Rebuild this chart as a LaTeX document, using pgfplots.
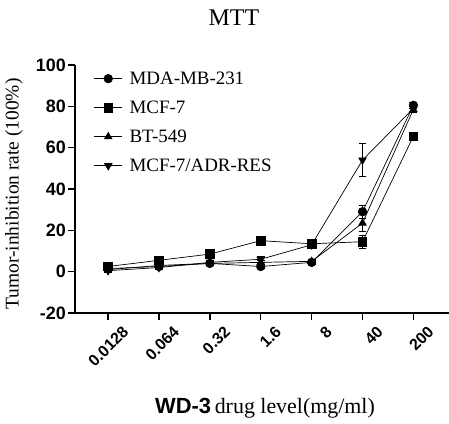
\documentclass[border=0pt]{standalone}
\usepackage{pgfplots}
\pgfplotsset{compat=1.18}
\usepackage{fontspec}
\setmainfont{Liberation Serif}
\newfontfamily\arial{Liberation Sans}
\pgfplotsset{ser/.style={black, line width=0.7pt, mark size=4.3pt,
    error bars/y dir=both, error bars/y explicit,
    error bars/error bar style={line width=0.7pt},
    error bars/error mark options={rotate=90, mark size=4pt, line width=0.7pt}}}
\begin{document}
\begin{tikzpicture}[x=1bp,y=1bp]
\useasboundingbox (0,0) rectangle (449,423);
\begin{axis}[
  at={(75bp,110bp)}, anchor=south west,
  scale only axis, width=374bp, height=248bp,
  axis lines=left, axis line style={line width=1.7pt, -},
  xmin=-0.65, xmax=6.7, ymin=-20, ymax=100,
  xtick={0,...,6},
  xticklabels={0.0128,0.064,0.32,1.6,8,40,200},
  ytick={-20,0,20,40,60,80,100},
  tick align=outside, major tick length=7bp,
  tick style={line width=1.5pt, black},
  /pgf/number format/assume math mode=true,
  xticklabel style={font=\arial\bfseries\fontsize{16}{16}\selectfont, rotate=45, anchor=north east, inner sep=1pt, xshift=7bp, yshift=-12bp},
  yticklabel style={font=\arial\bfseries\fontsize{18}{18}\selectfont, inner sep=2pt},
  title={MTT}, title style={font=\fontsize{24}{24}\selectfont, at={(axis description cs:0.425,1.168)}, anchor=center},
  ylabel={Tumor-inhibition rate (100\%)},
  ylabel style={font=\fontsize{19.5}{19.5}\selectfont, at={(axis description cs:-0.163,0.48)}, anchor=center},
  xlabel={{\arial\bfseries WD-3}\,drug level(mg/ml)},
  xlabel style={font=\fontsize{22}{22}\selectfont, at={(axis description cs:0.508,-0.385)}, anchor=center},
  legend style={draw=none, fill=none, at={(axis description cs:0.05,0.982)}, anchor=north west,
    font=\fontsize{19}{19}\selectfont, row sep=11bp, column sep=5bp, inner sep=0pt},
  legend image code/.code={\draw[mark repeat=2,mark phase=2,#1] plot coordinates {(0bp,0bp) (14bp,0bp) (28bp,0bp)};},
  legend cell align=left,
  clip=false,
]
\addplot[ser, mark=*, mark options={fill=black, solid}] coordinates {
 (0,1.5) +- (0,0.8) (1,2.5) +- (0,0.8) (2,4) +- (0,0.8) (3,2.5) +- (0,0.8) (4,4.5) +- (0,0.8) (5,29) +- (0,3) (6,80.5) +- (0,1.5)};
\addlegendentry{MDA-MB-231}
\addplot[ser, mark=square*, mark options={fill=black, solid}] coordinates {
 (0,2.5) +- (0,0.8) (1,5.5) +- (0,0.8) (2,8.5) +- (0,1) (3,15) +- (0,1) (4,13.5) +- (0,2) (5,14.5) +- (0,3) (6,65.5) +- (0,1.5)};
\addlegendentry{MCF-7}
\addplot[ser, mark=triangle*, mark options={fill=black, solid}] coordinates {
 (0,1) +- (0,0.8) (1,3) +- (0,0.8) (2,4) +- (0,0.8) (3,4.5) +- (0,0.8) (4,5) +- (0,0.8) (5,23.5) +- (0,4) (6,78.5) +- (0,1.5)};
\addlegendentry{BT-549}
\addplot[ser, mark=triangle*, mark options={fill=black, solid, rotate=180}] coordinates {
 (0,0.5) +- (0,0.8) (1,2) +- (0,0.8) (2,4.5) +- (0,0.8) (3,6) +- (0,1.5) (4,13) +- (0,1.5) (5,54) +- (0,8) (6,79) +- (0,1.5)};
\addlegendentry{MCF-7/ADR-RES}
\end{axis}
\end{tikzpicture}
\end{document}
